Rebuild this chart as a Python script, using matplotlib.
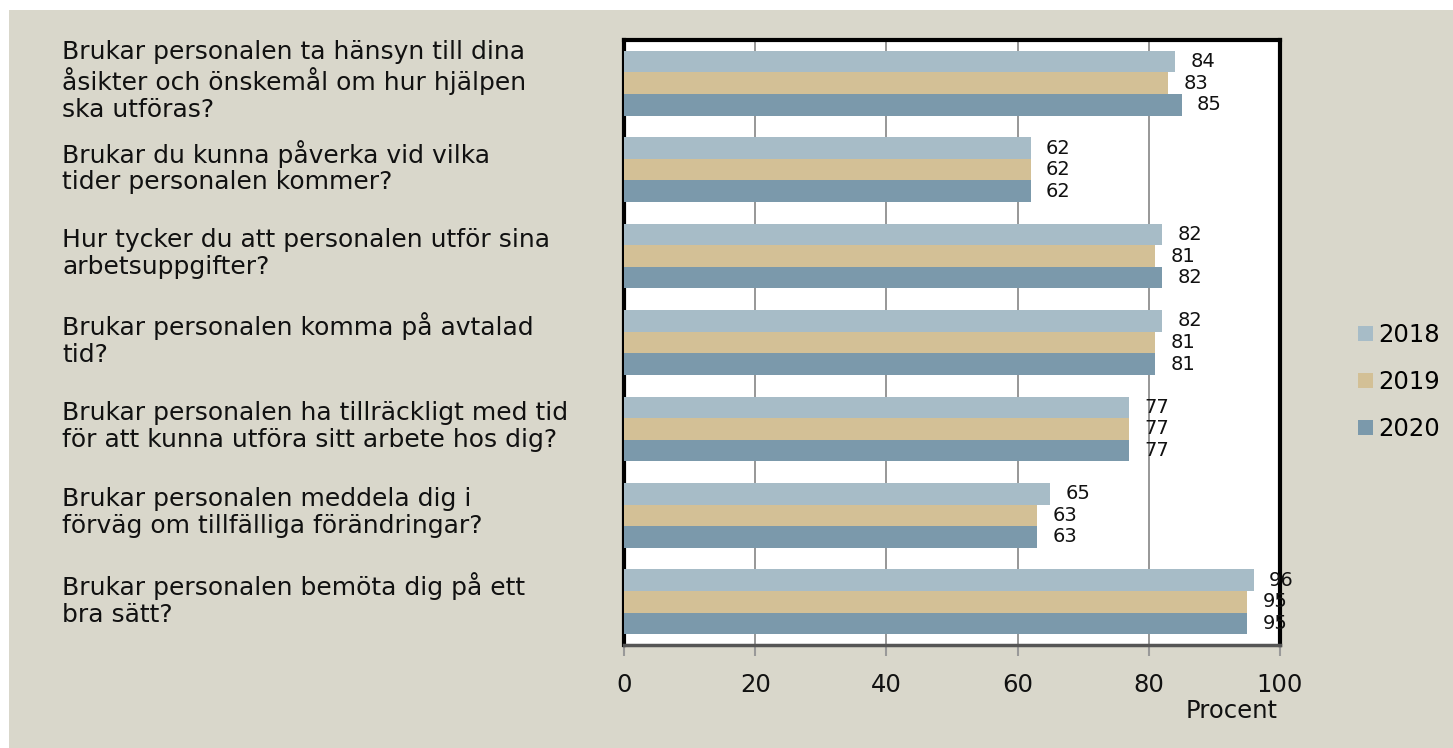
import numpy as np
import matplotlib
matplotlib.use("Agg")
import matplotlib.pyplot as plt
from matplotlib.patches import Rectangle
from matplotlib.transforms import blended_transform_factory

questions = [
    "Brukar personalen ta hänsyn till dina\nåsikter och önskemål om hur hjälpen\nska utföras?",
    "Brukar du kunna påverka vid vilka\ntider personalen kommer?",
    "Hur tycker du att personalen utför sina\narbetsuppgifter?",
    "Brukar personalen komma på avtalad\ntid?",
    "Brukar personalen ha tillräckligt med tid\nför att kunna utföra sitt arbete hos dig?",
    "Brukar personalen meddela dig i\nförväg om tillfälliga förändringar?",
    "Brukar personalen bemöta dig på ett\nbra sätt?",
]
years = ["2018", "2019", "2020"]
v2018 = [84, 62, 82, 82, 77, 65, 96]
v2019 = [83, 62, 81, 81, 77, 63, 95]
v2020 = [85, 62, 82, 81, 77, 63, 95]
xticks = [0, 20, 40, 60, 80, 100]

colors = ["#A7BCC7", "#D3C096", "#7B99AB"]
bg = "#D9D7CB"

plt.rcParams["font.family"] = ["DejaVu Sans"]

fig = plt.figure(figsize=(14.53, 7.48), dpi=100)
fig.patch.set_facecolor("white")
# beige panel with thin white strip at top and left
fig.add_artist(Rectangle((9 / 1453, 0), 1, 1 - 10 / 748, transform=fig.transFigure,
                         facecolor=bg, edgecolor="none", zorder=-10))

ax = fig.add_axes([624 / 1453, 1 - 645 / 748, 656 / 1453, 605 / 748])
ax.set_facecolor("white")

y = np.arange(len(questions))
h = 0.25
series = [v2018, v2019, v2020]
for i, (vals, yr, c) in enumerate(zip(series, years, colors)):
    pos = y - h + i * h
    ax.barh(pos, vals, height=h, color=c, label=yr, zorder=3)
    for p, v in zip(pos, vals):
        ax.annotate(str(v), (v, p), xytext=(11, 0), textcoords="offset points",
                    ha="left", va="center", fontsize=14, color="#111111",
                    annotation_clip=False, zorder=5)

ax.set_xlim(0, 100)
ax.set_ylim(len(questions) - 0.5, -0.5)
ax.set_xticks(xticks)
ax.set_xticklabels([str(t) for t in xticks], fontsize=17.5, color="#111111")
ax.tick_params(axis="x", length=8, width=1.5, color="#999999", pad=12)
ax.set_yticks([])
ax.grid(axis="x", color="#8f8f8f", linewidth=1.3, zorder=1)

for s in ["top", "left", "right"]:
    ax.spines[s].set_color("black")
    ax.spines[s].set_linewidth(3)
ax.spines["bottom"].set_color("#555555")
ax.spines["bottom"].set_linewidth(2.5)

ax.text(1232 / 1453, 1 - 711 / 748, "Procent", transform=fig.transFigure,
        ha="center", va="center", fontsize=17.5, color="#111111")

trans = blended_transform_factory(fig.transFigure, ax.transData)
for yi, q in zip(y, questions):
    ax.text(62 / 1453, yi - 0.03, q, transform=trans, ha="left", va="center",
            fontsize=18, color="#111111", linespacing=1.15)

ax.legend(loc="center left", bbox_to_anchor=(1358 / 1453, 1 - 382 / 748),
          bbox_transform=fig.transFigure, frameon=False, fontsize=17.5,
          handlelength=0.6, handleheight=0.6, handletextpad=0.25,
          labelspacing=0.95, borderpad=0, borderaxespad=0)

fig.savefig("out.png", dpi=100, facecolor=fig.get_facecolor())
